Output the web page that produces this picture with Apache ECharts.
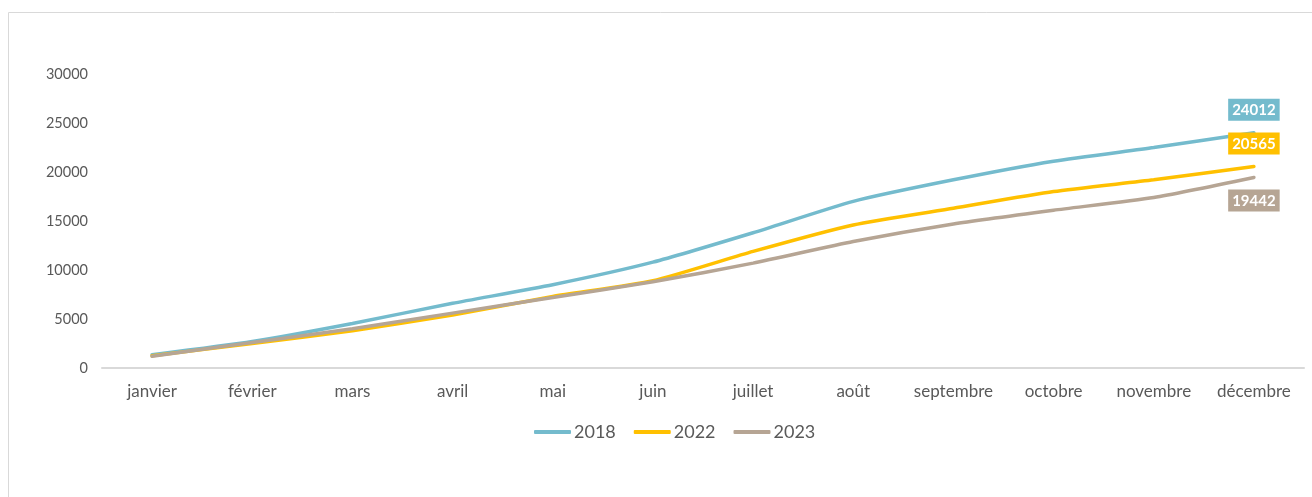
<!DOCTYPE html>
<html><head><meta charset="utf-8">
<script src="https://cdn.jsdelivr.net/npm/echarts@6/dist/echarts.min.js"></script>
<style>html,body{margin:0;padding:0;background:#fff}#c{width:1312px;height:497px}</style>
</head><body><div id="c"></div>
<script>
const months = ['janvier','février','mars','avril','mai','juin','juillet','août','septembre','octobre','novembre','décembre'];
const s2018 = [1350, 2700, 4550, 6600, 8500, 10800, 13800, 17000, 19200, 21100, 22500, 24012];
const s2022 = [1250, 2500, 3800, 5400, 7300, 8900, 11900, 14600, 16300, 18000, 19200, 20565];
const s2023 = [1200, 2600, 4000, 5600, 7200, 8800, 10700, 12900, 14700, 16100, 17400, 19442];
const seriesNames = ['2018','2022','2023'];
const colors = ['#74BBCD','#FFC000','#B6A594'];
const yTicks = [0, 5000, 10000, 15000, 20000, 25000, 30000];

const chart = echarts.init(document.getElementById('c'));
const font = 'Lato, "Open Sans", sans-serif';
function mk(name, data, color, pos) {
  return {
    name, type: 'line', data, smooth: 0.2, symbol: 'none',
    lineStyle: { width: 3.5, color, cap: 'round' }, itemStyle: { color },
    markPoint: {
      symbol: 'rect', symbolSize: 0,
      data: [{ coord: [months.length - 1, data[data.length - 1]], value: data[data.length - 1] }],
      label: {
        show: true, position: pos, distance: 12, formatter: '{c}',
        backgroundColor: color, color: '#fff', fontWeight: 'bold', fontSize: 15,
        fontFamily: font, padding: [4, 4, 3, 4]
      }
    }
  };
}
chart.setOption({
  animation: false,
  color: colors,
  graphic: [{ type: 'rect', shape: { x: 8.5, y: 12.5, width: 1320, height: 500 }, style: { fill: 'none', stroke: '#d9d9d9', lineWidth: 1 } }],
  grid: { left: 102, right: 8, top: 74, bottom: 129 },
  legend: {
    bottom: 51, left: 529, itemWidth: 37, itemHeight: 4, itemGap: 18,
    icon: 'roundRect',
    textStyle: { fontSize: 18, color: '#595959', fontFamily: font, padding: [0, 0, 0, -2] },
    data: seriesNames
  },
  xAxis: {
    type: 'category', data: months, boundaryGap: true,
    axisLine: { lineStyle: { color: '#d9d9d9', width: 2 } },
    axisTick: { show: false },
    axisLabel: { color: '#595959', fontSize: 17, fontFamily: font, margin: 15, interval: 0 }
  },
  yAxis: {
    type: 'value', min: yTicks[0], max: yTicks[yTicks.length - 1], interval: yTicks[1] - yTicks[0],
    axisLine: { show: false }, axisTick: { show: false }, splitLine: { show: false },
    axisLabel: { color: '#595959', fontSize: 14.5, fontFamily: font, margin: 14, formatter: v => String(v) }
  },
  series: [
    mk(seriesNames[0], s2018, colors[0], 'top'),
    mk(seriesNames[1], s2022, colors[1], 'top'),
    mk(seriesNames[2], s2023, colors[2], 'bottom')
  ]
});
</script></body></html>
